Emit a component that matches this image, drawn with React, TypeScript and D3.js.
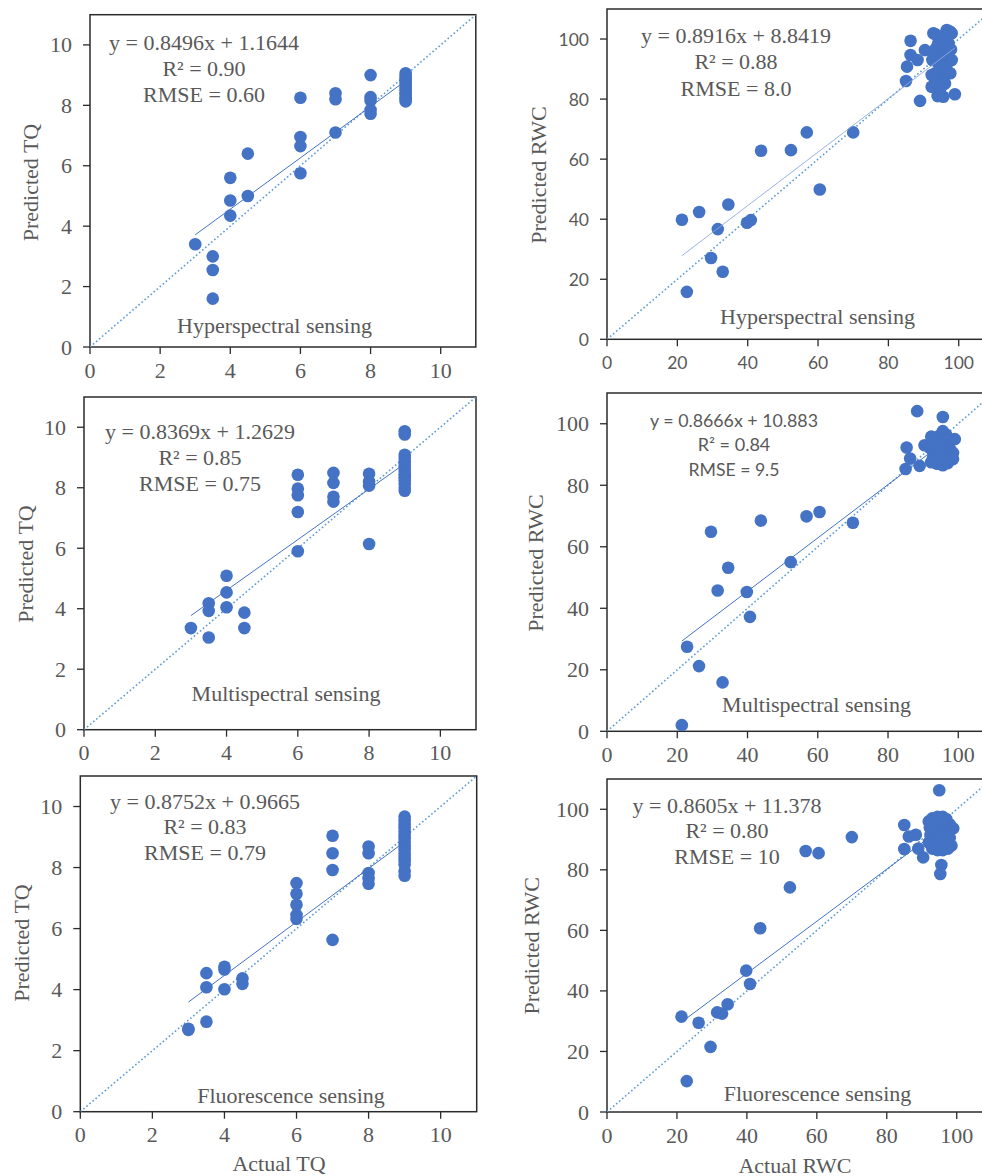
import React from 'react';
import * as d3 from 'd3';

const W = 982;
const H = 1176;

// ---------- Data ----------
const TQ_TICKS = [0, 2, 4, 6, 8, 10];
const RWC_TICKS = [0, 20, 40, 60, 80, 100];

// TQ – Hyperspectral
const tqHyperActual = [3, 3.5, 3.5, 3.5, 4, 4, 4, 4.5, 4.5, 6, 6, 6, 6, 7, 7, 7, 8, 8, 8, 8, 8,
  9, 9, 9, 9, 9, 9, 9, 9, 9, 9, 9, 9, 9];
const tqHyperPred = [3.4, 3.0, 2.55, 1.6, 5.6, 4.85, 4.35, 6.4, 5.0, 8.25, 6.95, 6.65, 5.75, 8.4, 8.2, 7.1, 9.0, 8.27, 8.16, 7.85, 7.72,
  9.06, 8.98, 8.9, 8.82, 8.74, 8.66, 8.58, 8.5, 8.42, 8.34, 8.26, 8.2, 8.13];

// TQ – Multispectral
const tqMultiActual = [3, 3.5, 3.5, 3.5, 4, 4, 4, 4.5, 4.5, 6, 6, 6, 6, 6, 7, 7, 7, 7, 8, 8, 8, 8,
  9, 9, 9, 9, 9, 9, 9, 9, 9, 9, 9, 9, 9, 9];
const tqMultiPred = [3.36, 4.18, 3.93, 3.05, 5.09, 4.54, 4.05, 3.87, 3.36, 8.43, 7.97, 7.75, 7.2, 5.9, 8.49, 8.16, 7.7, 7.54, 8.46, 8.21, 8.07, 6.14,
  9.87, 9.76, 9.09, 8.98, 8.87, 8.76, 8.65, 8.55, 8.45, 8.35, 8.25, 8.12, 8.0, 7.9];

// TQ – Fluorescence
const tqFluorActual = [3, 3, 3.5, 3.5, 3.5, 4, 4, 4, 4.5, 4.5, 6, 6, 6, 6, 6, 7, 7, 7, 7, 8, 8, 8, 8, 8,
  9, 9, 9, 9, 9, 9, 9, 9, 9, 9, 9, 9, 9, 9, 9, 9];
const tqFluorPred = [2.68, 2.72, 4.54, 4.08, 2.95, 4.75, 4.66, 4.01, 4.37, 4.19, 7.49, 7.14, 6.78, 6.45, 6.32, 9.04, 8.47, 7.92, 5.63, 8.69, 8.47, 7.82, 7.65, 7.47,
  9.67, 9.55, 9.42, 9.3, 9.18, 9.06, 8.94, 8.82, 8.7, 8.58, 8.46, 8.34, 8.22, 8.1, 7.88, 7.73];

// RWC – Hyperspectral
const rwcHyperActual = [21.3, 22.7, 26.2, 29.6, 31.5, 32.9, 34.5, 39.8, 40.9, 43.8, 52.3, 56.8, 60.5, 70,
  85, 85.3, 86.3, 86.3, 88.3, 89, 90.4,
  92.8, 93.5, 94.5, 95.6, 96.6, 97.5, 98, 92.8, 93.6, 94.2, 95.6, 96.5, 97.1, 97.8,
  92.5, 93.8, 94.2, 95.4, 96.5, 98, 92.3, 93.3, 94.5, 95.6, 96.2, 97.6, 92.3, 93.5, 95, 96.1, 94, 95.6, 98.9];
const rwcHyperPred = [39.8, 15.8, 42.4, 27.1, 36.7, 22.5, 44.9, 38.8, 39.7, 62.8, 63, 68.9, 49.9, 68.9,
  86, 90.8, 99.4, 94.7, 93, 79.4, 96.3,
  101.9, 101.5, 100.5, 101, 103, 102.5, 101.9, 95.2, 97, 98.8, 95.2, 97, 98.6, 96.5,
  93, 93.5, 91.9, 92.5, 91, 93, 88, 88.6, 89, 87.5, 88, 88.6, 84.1, 85.5, 84, 85.2, 81, 80.8, 81.6];

// RWC – Multispectral
const rwcMultiActual = [21.3, 22.8, 26.2, 29.6, 31.5, 32.9, 34.5, 39.8, 40.7, 43.8, 52.3, 56.8, 60.5, 70,
  85, 85.3, 86.3, 88.3, 89, 90.4, 95.6,
  92.3, 93.3, 94.5, 95.6, 96.5, 97.3, 99, 92, 93.5, 95, 96.2, 97.8, 98.5, 92.8, 94, 95.3, 96.5, 97.5, 92.3, 94, 95.6, 97, 98.5];
const rwcMultiPred = [2, 27.5, 21.2, 64.9, 45.8, 15.9, 53.2, 45.3, 37.2, 68.5, 55, 69.9, 71.3, 67.8,
  85.3, 92.3, 88.7, 104.1, 86.3, 93, 102.2,
  95.8, 94.5, 96, 97.6, 96.5, 95, 95, 92, 91.5, 93, 92, 91.5, 90.5, 89, 88, 89.5, 88.8, 88, 87.5, 87, 86.5, 87.2, 88.5];

// RWC – Fluorescence
const rwcFluorActual = [21.3, 22.8, 26.2, 29.6, 31.5, 32.9, 34.5, 39.8, 40.9, 43.8, 52.3, 56.8, 60.5, 70,
  85, 85, 86.3, 88.3, 89, 90.4, 95, 95.6, 95.3,
  92, 93, 94.5, 96, 97, 98, 99, 92.3, 93.5, 95, 96.3, 97.5, 92.5, 94, 95.3, 96.8, 98, 92, 93.5, 95, 96.5, 98.5, 93, 94.5, 96, 97.5];
const rwcFluorPred = [31.5, 10.2, 29.5, 21.5, 32.9, 32.5, 35.6, 46.7, 42.3, 60.7, 74.2, 86.2, 85.5, 90.8,
  94.8, 86.9, 91, 91.6, 87, 84.1, 106.3, 81.6, 78.6,
  96, 97, 97.5, 97.5, 96.8, 95, 93.7, 94, 94.5, 95, 94.8, 93, 91.5, 92, 92.5, 91.5, 90.5, 89, 89.5, 90, 89, 88, 87, 86.5, 86.5, 87];

// ---------- Styles ----------
const GRAY = '#595959';
const DOT = '#4472C4';
const SERIF = "'Liberation Serif', 'Times New Roman', Times, serif";
const SANS = "Lato, 'Open Sans', sans-serif";

type Cfg = {
  actual: number[]; pred: number[]; slope: number; intercept: number;
  eq: string[]; label: string; ticks: number[]; max: number;
  left: number; right: number; top: number; bottom: number;
  eqX: number; eqY: number[]; eqFont: string; eqSize: number; eqLen?: number[];
  labX: number; labY: number; tickFont: string; tickSize: number;
  yTitle: string; yTitleX: number; yTitleY: number;
  xTitle?: string; xTitleX?: number; xTitleY?: number;
  trendColor: string; trendWidth: number;
};

const panels: Cfg[] = [
  {
    actual: tqHyperActual, pred: tqHyperPred, slope: 0.8496, intercept: 1.1644,
    eq: ['y = 0.8496x + 1.1644', 'R² = 0.90', 'RMSE = 0.60'], label: 'Hyperspectral sensing',
    ticks: TQ_TICKS, max: 11, left: 90, right: 475.8, top: 14.7, bottom: 347,
    eqX: 204, eqY: [42.7, 68.3, 94.3], eqFont: SERIF, eqSize: 22,
    labX: 274.5, labY: 325, tickFont: SERIF, tickSize: 22,
    yTitle: 'Predicted TQ', yTitleX: 30, yTitleY: 182.5, trendColor: DOT, trendWidth: 1,
  },
  {
    actual: rwcHyperActual, pred: rwcHyperPred, slope: 0.8916, intercept: 8.8419,
    eq: ['y = 0.8916x + 8.8419', 'R² = 0.88', 'RMSE = 8.0'], label: 'Hyperspectral sensing',
    ticks: RWC_TICKS, max: 110, left: 607, right: 993.9, top: 9, bottom: 339.3,
    eqX: 736, eqY: [35.7, 61.7, 88.3], eqFont: SERIF, eqSize: 22,
    labX: 817.5, labY: 316.7, tickFont: SANS, tickSize: 17.5,
    yTitle: 'Predicted RWC', yTitleX: 538, yTitleY: 175, trendColor: '#8FAADC', trendWidth: 0.9,
  },
  {
    actual: tqMultiActual, pred: tqMultiPred, slope: 0.8369, intercept: 1.2629,
    eq: ['y = 0.8369x + 1.2629', 'R² = 0.85', 'RMSE = 0.75'], label: 'Multispectral sensing',
    ticks: TQ_TICKS, max: 11, left: 84, right: 476, top: 397, bottom: 729.7,
    eqX: 200, eqY: [431.7, 457.3, 483.3], eqFont: SERIF, eqSize: 22,
    labX: 286, labY: 693.3, tickFont: SERIF, tickSize: 22,
    yTitle: 'Predicted TQ', yTitleX: 25, yTitleY: 564, trendColor: DOT, trendWidth: 1,
  },
  {
    actual: rwcMultiActual, pred: rwcMultiPred, slope: 0.8666, intercept: 10.883,
    eq: ['y = 0.8666x + 10.883', 'R² = 0.84', 'RMSE = 9.5'], label: 'Multispectral sensing',
    ticks: RWC_TICKS, max: 110, left: 607, right: 993.4, top: 393, bottom: 731.3,
    eqX: 734, eqY: [420, 444.3, 469.3], eqFont: SANS, eqSize: 17, eqLen: [168, 72.7, 91],
    labX: 816.5, labY: 704, tickFont: SERIF, tickSize: 22,
    yTitle: 'Predicted RWC', yTitleX: 535.7, yTitleY: 563, trendColor: DOT, trendWidth: 1,
  },
  {
    actual: tqFluorActual, pred: tqFluorPred, slope: 0.8752, intercept: 0.9665,
    eq: ['y = 0.8752x + 0.9665', 'R² = 0.83', 'RMSE = 0.79'], label: 'Fluorescence sensing',
    ticks: TQ_TICKS, max: 11, left: 80.3, right: 476.7, top: 776, bottom: 1111.7,
    eqX: 205, eqY: [801, 826.7, 852.7], eqFont: SERIF, eqSize: 22,
    labX: 291, labY: 1095, tickFont: SERIF, tickSize: 22,
    yTitle: 'Predicted TQ', yTitleX: 21.7, yTitleY: 943,
    xTitle: 'Actual TQ', xTitleX: 279, xTitleY: 1163, trendColor: DOT, trendWidth: 1,
  },
  {
    actual: rwcFluorActual, pred: rwcFluorPred, slope: 0.8605, intercept: 11.378,
    eq: ['y = 0.8605x + 11.378', 'R² = 0.80', 'RMSE = 10'], label: 'Fluorescence sensing',
    ticks: RWC_TICKS, max: 110, left: 607, right: 991.7, top: 779, bottom: 1112,
    eqX: 727, eqY: [805, 830.7, 856.7], eqFont: SERIF, eqSize: 22,
    labX: 817.5, labY: 1093.3, tickFont: SERIF, tickSize: 22,
    yTitle: 'Predicted RWC', yTitleX: 531.7, yTitleY: 945.8,
    xTitle: 'Actual RWC', xTitleX: 795, xTitleY: 1165, trendColor: DOT, trendWidth: 1,
  },
];

function Panel({ c, idx }: { c: Cfg; idx: number }) {
  const x = d3.scaleLinear().domain([0, c.max]).range([c.left, c.right]);
  const y = d3.scaleLinear().domain([0, c.max]).range([c.bottom, c.top]);
  const xMin = d3.min(c.actual) as number;
  const xMax = d3.max(c.actual) as number;
  const line = d3.line<[number, number]>().x(d => x(d[0])).y(d => y(d[1]));
  const trend = line([[xMin, c.slope * xMin + c.intercept], [xMax, c.slope * xMax + c.intercept]]) || '';
  const oneToOne = line([[0, 0], [c.max, c.max]]) || '';
  const clipId = `clip${idx}`;
  const tickStyle = { fontFamily: c.tickFont, fontSize: c.tickSize };
  const serifStyle = { fontFamily: SERIF, fontSize: 22 };
  return (
    <g>
      <defs>
        <clipPath id={clipId}>
          <rect x={c.left} y={c.top} width={c.right - c.left} height={c.bottom - c.top} />
        </clipPath>
      </defs>
      <rect x={c.left} y={c.top} width={c.right - c.left} height={c.bottom - c.top}
        fill="#fff" stroke="#2b2b2b" strokeWidth={1.5} />
      <g clipPath={`url(#${clipId})`}>
        <path d={oneToOne} stroke="#5B9BD5" strokeWidth={1.6} strokeDasharray="1.6 2.4" fill="none" />
        {c.actual.map((a, i) => (
          <circle key={i} cx={x(a)} cy={y(c.pred[i])} r={6.3} fill={DOT} />
        ))}
        <path d={trend} stroke={c.trendColor} strokeWidth={c.trendWidth} fill="none" />
      </g>
      {c.ticks.map(t => (
        <g key={'x' + t}>
          <line x1={x(t)} x2={x(t)} y1={c.bottom} y2={c.bottom + 7} stroke="#2b2b2b" strokeWidth={1.3} />
          <text x={x(t)} y={c.bottom + 23} textAnchor="middle" dominantBaseline="central"
            style={tickStyle} fill={GRAY}>{t}</text>
        </g>
      ))}
      {c.ticks.map(t => (
        <g key={'y' + t}>
          <line x1={c.left - 7} x2={c.left} y1={y(t)} y2={y(t)} stroke="#2b2b2b" strokeWidth={1.3} />
          <text x={c.left - 18} y={y(t)} textAnchor="end" dominantBaseline="central"
            style={tickStyle} fill={GRAY}>{t}</text>
        </g>
      ))}
      {c.eq.map((s, i) => (
        <text key={'eq' + i} x={c.eqX} y={c.eqY[i]} textAnchor="middle" dominantBaseline="central"
          style={{ fontFamily: c.eqFont, fontSize: c.eqSize }} fill={GRAY}
          {...(c.eqLen ? { textLength: c.eqLen[i], lengthAdjust: 'spacingAndGlyphs' } : {})}>{s}</text>
      ))}
      <text x={c.labX} y={c.labY} textAnchor="middle" dominantBaseline="central"
        style={serifStyle} fill={GRAY}>{c.label}</text>
      <text transform={`translate(${c.yTitleX},${c.yTitleY}) rotate(-90)`} textAnchor="middle"
        dominantBaseline="central" style={serifStyle} fill={GRAY}>{c.yTitle}</text>
      {c.xTitle && (
        <text x={c.xTitleX} y={c.xTitleY} textAnchor="middle" dominantBaseline="central"
          style={serifStyle} fill={GRAY}>{c.xTitle}</text>
      )}
    </g>
  );
}

export default function App() {
  return (
    <svg width={W} height={H} viewBox={`0 0 ${W} ${H}`}
      style={{ position: 'absolute', left: 0, top: 0, background: '#fff' }}>
      <rect width={W} height={H} fill="#fff" />
      {panels.map((c, i) => <Panel key={i} c={c} idx={i} />)}
    </svg>
  );
}
